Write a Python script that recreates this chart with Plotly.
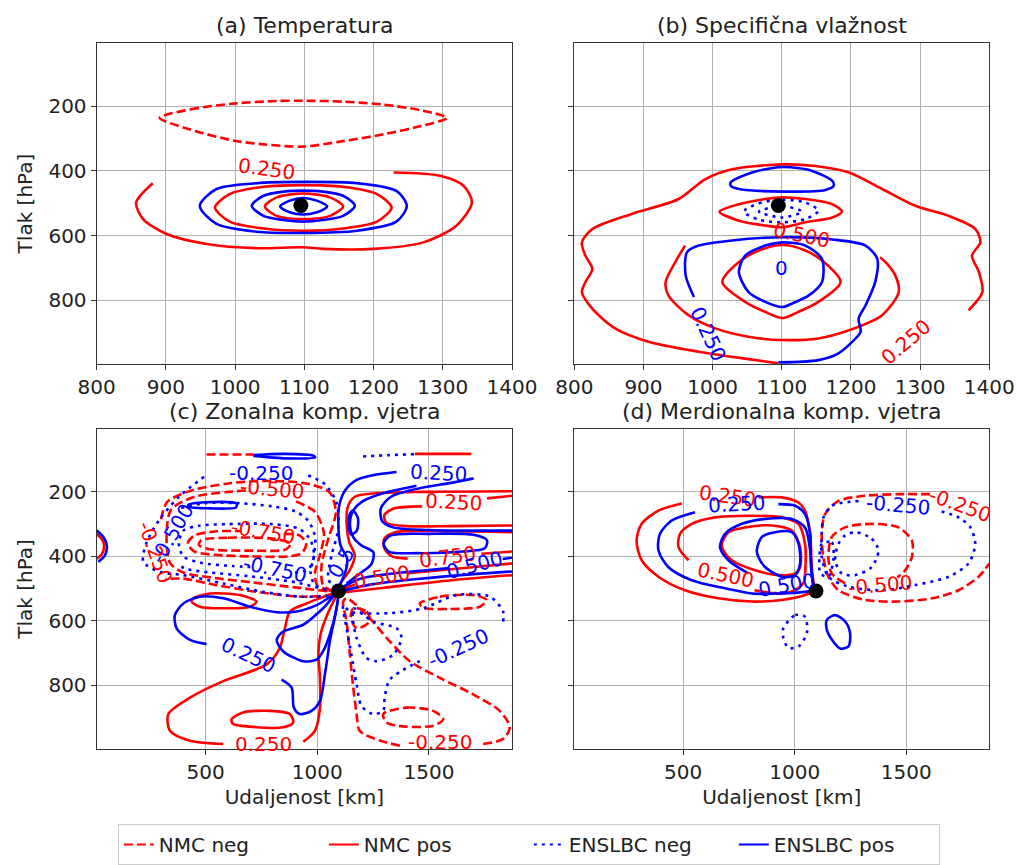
import plotly.graph_objects as go

# ---------------- data (x in km, y in hPa) ----------------
OBS_POINT = (1095, 507)

# (a) Temperatura
A_NMC_NEG = [
    [(891, 236), (935, 210), (997, 192), (1060, 184), (1098, 183), (1156, 186), (1214, 195), (1267, 212),
     (1306, 236), (1267, 262), (1214, 287), (1156, 308), (1098, 325), (1041, 318), (997, 306), (935, 272), (891, 236)],
]
A_NMC_POS = [
    [(881, 438), (857, 498), (867, 549), (901, 595), (959, 626), (1031, 639), (1098, 636), (1127, 641),
     (1200, 641), (1272, 621), (1320, 569), (1342, 498), (1330, 446), (1296, 415), (1229, 405)],
    [(971, 513), (992, 472), (1041, 449), (1098, 444), (1156, 449), (1205, 472), (1226, 513), (1205, 557),
     (1156, 578), (1098, 585), (1041, 578), (992, 557), (971, 513)],
    [(1043, 510), (1060, 482), (1098, 470), (1137, 482), (1156, 510), (1137, 539), (1098, 549), (1060, 539), (1043, 510)],
]
A_ENS_NEG = []
A_ENS_POS = [
    [(949, 508), (973, 456), (1031, 438), (1098, 434), (1176, 438), (1233, 462), (1248, 508), (1233, 557),
     (1176, 585), (1098, 592), (1031, 588), (973, 564), (949, 508)],
    [(1024, 508), (1041, 477), (1070, 464), (1098, 461), (1127, 464), (1156, 477), (1173, 508), (1156, 539),
     (1127, 552), (1098, 557), (1070, 552), (1041, 539), (1024, 508)],
    [(1065, 510), (1079, 492), (1098, 484), (1118, 492), (1133, 510), (1118, 528), (1098, 535), (1079, 528), (1065, 510)],
]
A_LABELS = [("0.250", 1046, 395, 8, "nmc")]

# (b) Specifična vlažnost
B_NMC_NEG = []
B_NMC_POS = [
    [(1095, 995), (1052, 982), (980, 959), (907, 928), (859, 887), (826, 826), (811, 775), (816, 744), (826, 703),
     (816, 662), (811, 621), (826, 580), (883, 533), (951, 487), (989, 426), (1028, 395), (1101, 380), (1148, 385),
     (1197, 405), (1245, 456), (1293, 508), (1341, 539), (1380, 580), (1387, 621), (1375, 662), (1385, 713),
     (1390, 775), (1370, 831)],
    [(1010, 526), (1038, 503), (1076, 487), (1101, 482), (1134, 487), (1173, 503), (1187, 526), (1173, 544),
     (1134, 559), (1101, 574), (1076, 569), (1038, 554), (1010, 526)],
    [(960, 631), (946, 682), (932, 744), (936, 785), (965, 846), (1004, 887), (1052, 913), (1101, 923), (1153, 918),
     (1197, 893), (1245, 846), (1269, 775), (1264, 723), (1250, 682), (1242, 667)],
    [(1014, 744), (1038, 682), (1067, 646), (1101, 629), (1134, 646), (1161, 682), (1185, 744), (1153, 805),
     (1124, 836), (1101, 855), (1076, 836), (1047, 805), (1014, 744)],
]
B_ENS_NEG = [
    [(1045, 526), (1067, 500), (1101, 489), (1134, 498), (1153, 523), (1134, 549), (1101, 559), (1067, 551), (1045, 526)],
    [(1067, 526), (1101, 508), (1129, 526), (1101, 544), (1067, 526)],
]
B_ENS_POS = [
    [(1026, 436), (1057, 405), (1101, 388), (1144, 400), (1173, 431), (1175, 446), (1163, 459), (1101, 464),
     (1038, 456), (1027, 448), (1026, 436)],
    [(973, 790), (961, 723), (963, 651), (980, 631), (1028, 615), (1101, 605), (1173, 612), (1221, 631),
     (1238, 672), (1235, 744), (1221, 816), (1211, 857), (1214, 898), (1202, 928), (1182, 964), (1153, 985), (1095, 992)],
    [(1038, 713), (1047, 662), (1076, 631), (1101, 621), (1134, 631), (1158, 672), (1158, 744), (1139, 785),
     (1115, 810), (1101, 821), (1076, 805), (1052, 775), (1038, 713)],
]
B_LABELS = [("0.500", 1128, 598, 12, "nmc"), ("0", 1100, 701, 0, "ens"),
            ("0.250", 994, 903, 65, "ens"), ("0.250", 1279, 928, -40, "nmc")]

# (c) Zonalna komp. vjetra
C_NMC_NEG = [
    [(504, 84), (713, 84)],
    [(300, 285), (328, 231), (430, 197), (609, 173), (803, 166), (967, 176), (1056, 202), (1083, 264), (1049, 346),
     (1019, 428), (1026, 489), (1079, 515), (937, 525), (728, 510), (549, 489), (400, 469), (320, 470)],
    [(905, 230), (990, 262), (1030, 330), (1010, 400), (990, 450), (1000, 490), (1060, 508), (900, 496), (700, 480),
     (520, 465), (400, 450), (340, 420), (325, 330), (345, 255), (450, 215), (600, 200), (700, 195)],
    [(850, 330), (920, 335), (950, 360), (930, 390), (870, 400), (700, 400), (540, 395), (450, 385), (420, 360),
     (450, 335), (550, 322), (660, 322)],
    [(480, 350), (600, 342), (800, 345), (880, 360), (860, 378), (700, 382), (520, 378), (470, 365), (480, 350)],
    [(1459, 546), (1549, 525), (1698, 520), (1758, 535), (1728, 556), (1593, 563), (1474, 559), (1459, 546)],
    [(1370, 987), (1280, 971), (1190, 941), (1176, 889), (1161, 807), (1146, 705), (1131, 602), (1116, 540),
     (1131, 530), (1220, 581), (1325, 664), (1414, 725), (1549, 777), (1698, 828), (1817, 879), (1862, 930),
     (1832, 966), (1743, 982)],
    [(1295, 889), (1399, 869), (1519, 879), (1564, 905), (1519, 925), (1399, 928), (1310, 915), (1295, 889)],
    [(1161, 561), (1220, 571), (1235, 602), (1176, 623), (1150, 590), (1161, 561)],
]
C_NMC_POS = [
    [(1437, 82), (1690, 82)],
    [(12, 330), (39, 351), (45, 368), (36, 392), (12, 407)],
    [(1100, 486), (1145, 443), (1168, 397), (1143, 356), (1131, 294), (1138, 243), (1168, 215), (1250, 205),
     (1474, 200), (1872, 198)],
    [(1872, 212), (1760, 220)],
    [(1470, 245), (1340, 252), (1300, 272), (1310, 296), (1400, 306), (1600, 306), (1872, 304)],
    [(1872, 325), (1600, 322), (1350, 325), (1300, 345), (1300, 375), (1335, 400), (1405, 407)],
    [(1735, 392), (1872, 385)],
    [(1105, 502), (1170, 487)],
    [(1405, 452), (1600, 440), (1872, 422)],
    [(1110, 512), (1300, 497), (1600, 474), (1872, 458)],
    [(445, 530), (519, 515), (653, 520), (728, 540), (698, 556), (579, 561), (474, 556), (437, 540), (445, 530)],
    [(1086, 510), (952, 546), (877, 571), (855, 622), (832, 684), (773, 735), (579, 787), (430, 838), (333, 889),
     (340, 941), (430, 972), (579, 982)],
    [(937, 975), (990, 940), (1012, 870), (1012, 780), (1005, 700), (1015, 640), (1045, 580), (1090, 515)],
    [(616, 905), (668, 884), (788, 879), (877, 889), (892, 915), (847, 930), (698, 928), (623, 920), (616, 905)],
]
C_ENS_NEG = [
    [(1205, 90), (1320, 86), (1437, 83)],
    [(959, 149), (1034, 176), (1086, 233), (1094, 315), (1064, 397), (1049, 469), (1086, 515), (937, 525),
     (758, 510), (579, 484), (400, 458), (295, 448), (221, 417), (236, 356), (295, 284), (385, 212), (497, 151)],
    [(390, 250), (500, 235), (650, 235), (800, 245), (900, 260), (960, 290), (990, 340), (985, 400), (970, 450),
     (990, 490), (1050, 505), (900, 480), (700, 462), (520, 450), (420, 440), (370, 425)],
    [(900, 450), (960, 440), (985, 400), (970, 350), (920, 315), (800, 300), (600, 300), (470, 305), (400, 320),
     (380, 360), (400, 400), (480, 420), (620, 430), (700, 433)],
    [(1832, 602), (1832, 571), (1773, 525), (1623, 520), (1474, 561), (1325, 576), (1146, 571), (1116, 551),
     (1131, 623), (1153, 705), (1176, 797), (1198, 864), (1250, 889), (1295, 879), (1302, 838), (1325, 782), (1459, 725)],
    [(1161, 561), (1250, 602), (1355, 623), (1377, 653), (1340, 705), (1265, 725), (1220, 715), (1176, 653),
     (1161, 602), (1161, 561)],
]
C_ENS_POS = [
    [(713, 86), (850, 82), (985, 88), (990, 93), (860, 96), (713, 88)],
    [(12, 320), (42, 340), (57, 366), (49, 397), (19, 417)],
    [(422, 240), (500, 232), (638, 236), (636, 248), (520, 251), (425, 246), (422, 240)],
    [(1098, 494), (1128, 443), (1134, 407), (1104, 366), (1094, 294), (1098, 243), (1123, 197), (1176, 163),
     (1250, 148), (1355, 138)],
    [(1700, 158), (1600, 172), (1450, 190), (1330, 215), (1285, 250), (1290, 290), (1340, 310), (1500, 318), (1872, 320)],
    [(1444, 181), (1280, 207), (1206, 228), (1161, 258), (1146, 299), (1161, 340), (1198, 366), (1251, 387),
     (1243, 423), (1191, 453), (1131, 484)],
    [(1160, 258), (1182, 282), (1177, 320), (1152, 332), (1140, 300), (1145, 270), (1160, 258)],
    [(1330, 335), (1500, 330), (1700, 333), (1760, 350), (1750, 375), (1650, 385), (1450, 390), (1320, 385),
     (1297, 360), (1330, 335)],
    [(1105, 498), (1200, 468), (1350, 452), (1500, 442), (1590, 436)],
    [(1830, 408), (1872, 404)],
    [(1105, 508), (1250, 486), (1450, 470), (1700, 455), (1872, 447)],
    [(840, 782), (885, 807), (895, 869), (922, 889), (974, 879), (1012, 848), (1034, 766), (1056, 664), (1090, 525),
     (1071, 522), (997, 551), (907, 571), (818, 573), (698, 556), (579, 530), (474, 525), (400, 546), (362, 582),
     (370, 623), (430, 659), (504, 672)],
    [(1094, 510), (1026, 561), (937, 612), (847, 633), (818, 659), (847, 694), (937, 725), (997, 720), (1026, 694),
     (1056, 643), (1086, 561), (1094, 510)],
]
C_LABELS = [("-0.250", 746, 140, 0, "ens"), ("-0.500", 795, 192, 5, "nmc"), ("-0.500", 348, 330, -60, "ens"),
            ("-0.250", 273, 387, 70, "nmc"), ("-0.750", 758, 325, 10, "nmc"), ("-0.750", 810, 438, 12, "ens"),
            ("0.250", 1544, 142, 3, "ens"), ("0.250", 1611, 232, 3, "nmc"), ("0.750", 1582, 402, -8, "nmc"),
            ("0.500", 1705, 428, -15, "ens"), ("0.500", 1288, 464, -10, "nmc"), ("0.250", 691, 705, 25, "ens"),
            ("0.250", 761, 982, 0, "nmc"), ("-0.250", 1631, 684, -25, "ens"), ("-0.250", 1549, 977, 0, "nmc"),
            ("0.5", 1108, 417, -60, "ens")]

# (d) Merdionalna komp. vjetra
D_NMC_NEG = [
    [(1607, 207), (1465, 207), (1316, 212), (1196, 228), (1136, 269), (1121, 330), (1128, 402), (1151, 463),
     (1196, 505), (1316, 535), (1465, 540), (1615, 530), (1734, 505), (1824, 463), (1872, 422)],
    [(1226, 484), (1166, 453), (1151, 402), (1166, 340), (1226, 310), (1345, 299), (1465, 310), (1525, 351),
     (1525, 402), (1495, 443), (1460, 465)],
]
D_NMC_POS = [
    [(494, 236), (389, 258), (314, 299), (291, 351), (314, 412), (389, 463), (508, 505), (658, 530), (807, 540),
     (942, 535), (1046, 520), (1091, 505)],
    [(837, 217), (942, 217), (1017, 233), (1046, 258), (1069, 330), (1076, 433), (1088, 499)],
    [(524, 412), (479, 371), (486, 330), (539, 299), (643, 279), (792, 274), (942, 279), (1017, 299), (1046, 361),
     (1048, 430), (1040, 480), (1000, 505), (930, 515), (820, 505)],
    [(673, 361), (703, 325), (778, 310), (897, 304), (987, 320), (1024, 371), (1024, 433), (1002, 453), (927, 458),
     (822, 443), (718, 412), (680, 381), (673, 361)],
]
D_ENS_NEG = [
    [(1286, 228), (1166, 243), (1129, 279), (1121, 330), (1121, 402), (1151, 463), (1241, 494), (1390, 505),
     (1540, 489), (1690, 463), (1779, 422), (1809, 361), (1787, 310), (1734, 279), (1645, 258)],
    [(1271, 325), (1345, 345), (1375, 381), (1345, 433), (1271, 458), (1211, 453), (1181, 412), (1196, 361), (1226, 335), (1271, 325)],
    [(1121, 361), (1166, 356), (1173, 412), (1151, 463), (1115, 453), (1111, 402), (1121, 361)],
    [(949, 623), (1002, 582), (1046, 587), (1054, 638), (1017, 679), (972, 684), (949, 653), (949, 623)],
]
D_ENS_POS = [
    [(553, 263), (448, 289), (396, 330), (389, 381), (433, 433), (538, 474), (688, 499), (807, 515), (942, 515),
     (1046, 510), (1091, 505)],
    [(927, 238), (1002, 243), (1046, 269), (1069, 330), (1073, 433), (1084, 494)],
    [(792, 453), (703, 412), (665, 371), (688, 330), (763, 299), (867, 284), (987, 284), (1046, 310), (1069, 381),
     (1076, 453), (1084, 494)],
    [(830, 381), (852, 340), (912, 325), (987, 325), (1017, 361), (1024, 422), (1002, 458), (942, 463), (867, 433),
     (837, 402), (830, 381)],
    [(1144, 597), (1181, 582), (1226, 602), (1248, 638), (1241, 679), (1203, 686), (1166, 658), (1144, 628), (1144, 597)],
]
D_LABELS = [("0.250", 698, 212, 8, "nmc"), ("0.250", 740, 236, -3, "ens"), ("0.500", 688, 458, 12, "nmc"),
            ("0.500", 964, 489, -10, "ens"), ("-0.250", 1465, 240, 5, "ens"), ("-0.250", 1742, 240, 20, "nmc"),
            ("-0.500", 1383, 489, -5, "nmc")]

TITLES = ["(a) Temperatura", "(b) Specifična vlažnost", "(c) Zonalna komp. vjetra", "(d) Merdionalna komp. vjetra"]
LEGEND_NAMES = ["NMC neg", "NMC pos", "ENSLBC neg", "ENSLBC pos"]
X_TICKS_TOP = [800, 900, 1000, 1100, 1200, 1300, 1400]
X_TICKS_BOTTOM = [500, 1000, 1500]
Y_TICKS = [200, 400, 600, 800]

# ---------------- styling ----------------
RED, BLUE = "#ff0000", "#0000ff"
LW = 2.6
STYLES = {
    "nmc_neg": dict(color=RED, dash="9px,4px"),
    "nmc_pos": dict(color=RED, dash="solid"),
    "ens_neg": dict(color=BLUE, dash="3px,5px"),
    "ens_pos": dict(color=BLUE, dash="solid"),
}
FONT = "DejaVu Sans"

panels = [
    dict(nmc_neg=A_NMC_NEG, nmc_pos=A_NMC_POS, ens_neg=A_ENS_NEG, ens_pos=A_ENS_POS, labels=A_LABELS),
    dict(nmc_neg=B_NMC_NEG, nmc_pos=B_NMC_POS, ens_neg=B_ENS_NEG, ens_pos=B_ENS_POS, labels=B_LABELS),
    dict(nmc_neg=C_NMC_NEG, nmc_pos=C_NMC_POS, ens_neg=C_ENS_NEG, ens_pos=C_ENS_POS, labels=C_LABELS),
    dict(nmc_neg=D_NMC_NEG, nmc_pos=D_NMC_POS, ens_neg=D_ENS_NEG, ens_pos=D_ENS_POS, labels=D_LABELS),
]

fig = go.Figure()
annotations = []
for i, p in enumerate(panels):
    xa = "x" if i == 0 else f"x{i+1}"
    ya = "y" if i == 0 else f"y{i+1}"
    for key in ["nmc_neg", "nmc_pos", "ens_neg", "ens_pos"]:
        for line in p[key]:
            fig.add_trace(go.Scatter(
                x=[pt[0] for pt in line], y=[pt[1] for pt in line], xaxis=xa, yaxis=ya,
                mode="lines", line=dict(width=LW, shape="spline", smoothing=0.8, **STYLES[key]),
                showlegend=False, hoverinfo="skip"))
    fig.add_trace(go.Scatter(x=[OBS_POINT[0]], y=[OBS_POINT[1]], xaxis=xa, yaxis=ya, mode="markers",
                             marker=dict(color="black", size=15), showlegend=False, hoverinfo="skip"))
    for text, lx, ly, ang, who in p["labels"]:
        annotations.append(dict(text=text, x=lx, y=ly, xref=xa, yref=ya, showarrow=False, textangle=ang,
                                font=dict(family=FONT, size=20, color=RED if who == "nmc" else BLUE)))

for name, key in zip(LEGEND_NAMES, ["nmc_neg", "nmc_pos", "ens_neg", "ens_pos"]):
    fig.add_trace(go.Scatter(x=[None], y=[None], mode="lines", name=name,
                             line=dict(width=2, **STYLES[key]), xaxis="x", yaxis="y"))

W, H = 1017, 865
XD = [[96.7 / W, 512 / W], [574.3 / W, 989.3 / W]]
YD = [[1 - 366 / H, 1 - 43 / H], [1 - 752.7 / H, 1 - 430.7 / H]]

axis_common = dict(showgrid=True, gridcolor="#b0b0b0", gridwidth=1, zeroline=False, showline=True, mirror=True,
                   linecolor="#333333", linewidth=1.2, ticks="outside", ticklen=5, tickwidth=1.2, automargin=False,
                   tickcolor="#333333", tickfont=dict(family=FONT, size=20, color="#222222"))

layout = dict(width=W, height=H, margin=dict(l=0, r=0, t=0, b=0), plot_bgcolor="white", paper_bgcolor="white",
              font=dict(family=FONT, size=20, color="#222222"))
for i in range(4):
    row, col = divmod(i, 2)
    sfx = "" if i == 0 else str(i + 1)
    xr = [800, 1400] if row == 0 else [12, 1872]
    xt = X_TICKS_TOP if row == 0 else X_TICKS_BOTTOM
    xax = dict(axis_common, domain=XD[col], range=xr, tickvals=xt, anchor="y" + sfx)
    if row == 1:
        xax["title"] = dict(text="Udaljenost [km]", font=dict(family=FONT, size=20), standoff=6)
    yax = dict(axis_common, domain=YD[row], range=[998, 4], tickvals=Y_TICKS, anchor="x" + sfx,
               showticklabels=(col == 0))
    if col == 0:
        yax["title"] = dict(text="Tlak [hPa]", font=dict(family=FONT, size=20), standoff=10)
    layout["xaxis" + sfx] = xax
    layout["yaxis" + sfx] = yax
    annotations.append(dict(text=TITLES[i], xref="paper", yref="paper", x=sum(XD[col]) / 2, y=YD[row][1],
                            xanchor="center", yanchor="bottom", yshift=3, showarrow=False,
                            font=dict(family=FONT, size=22, color="#222222")))

layout["annotations"] = annotations
layout["legend"] = dict(orientation="h", x=0.52, xanchor="center", y=1 - 828 / H, yanchor="top",
                        bordercolor="#cccccc", borderwidth=1, bgcolor="white",
                        font=dict(family=FONT, size=20, color="#222222"), entrywidth=160, entrywidthmode="pixels")
fig.update_layout(**layout)
fig.write_html("out.html", config={"displayModeBar": False},
               post_script="document.body.style.margin='0';document.body.style.overflow='hidden';")
